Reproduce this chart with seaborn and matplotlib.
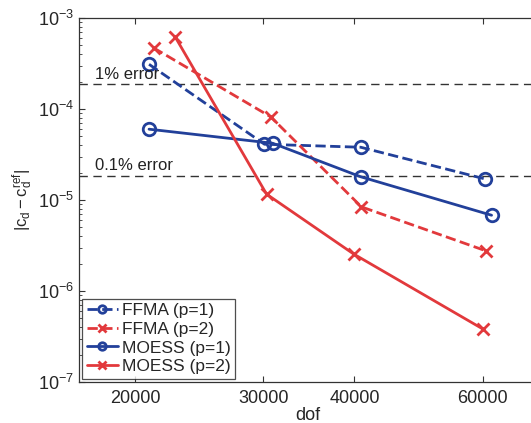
import numpy as np
import pandas as pd
import seaborn as sns
import matplotlib
matplotlib.use("Agg")
import matplotlib.pyplot as plt
from matplotlib.ticker import FixedLocator, NullLocator, LogLocator

# values
ffma_p1_dof = [20900, 30100, 40800, 60500]
ffma_p1_err = [3.1e-4, 4.1e-5, 3.8e-5, 1.7e-5]
ffma_p2_dof = [21200, 30700, 40900, 60700]
ffma_p2_err = [4.7e-4, 8.2e-5, 8.4e-6, 2.75e-6]
moess_p1_dof = [20900, 30900, 40800, 61700]
moess_p1_err = [6.0e-5, 4.2e-5, 1.8e-5, 6.8e-6]
moess_p2_dof = [22700, 30300, 39900, 60100]
moess_p2_err = [6.2e-4, 1.16e-5, 2.55e-6, 3.8e-7]
err_levels = [1.87e-4, 1.85e-5]
err_labels = ["1% error", "0.1% error"]
x_ticks = [20000, 30000, 40000, 60000]

BLUE = "#22409a"
RED = "#e2393c"

sns.set_theme(style="ticks")
plt.rcParams["font.family"] = ["Liberation Sans", "DejaVu Sans"]
plt.rcParams["mathtext.fontset"] = "custom"
plt.rcParams["mathtext.rm"] = "Liberation Sans"
plt.rcParams["mathtext.it"] = "Liberation Sans"
plt.rcParams["xtick.direction"] = "in"
plt.rcParams["ytick.direction"] = "in"

fig = plt.figure(figsize=(5.31, 4.23), dpi=100)
ax = fig.add_axes([79 / 531, 1 - 382 / 423, 457 / 531, 364 / 423])

series = [
    ("FFMA (p=1)", ffma_p1_dof, ffma_p1_err, BLUE, "--", "o"),
    ("FFMA (p=2)", ffma_p2_dof, ffma_p2_err, RED, "--", "x"),
    ("MOESS (p=1)", moess_p1_dof, moess_p1_err, BLUE, "-", "o"),
    ("MOESS (p=2)", moess_p2_dof, moess_p2_err, RED, "-", "x"),
]
for name, dof, err, col, ls, mk in series:
    df = pd.DataFrame({"dof": dof, "err": err})
    sns.lineplot(data=df, x="dof", y="err", ax=ax, color=col, linestyle=ls,
                 linewidth=2.0, marker=mk, markersize=9, markerfacecolor="none",
                 markeredgecolor=col, markeredgewidth=2.0, label=name)

for lvl, txt in zip(err_levels, err_labels):
    ax.axhline(lvl, color="#333333", linewidth=1.0, linestyle=(0, (6, 4)), zorder=1)
    ax.text(0.034, lvl * 1.06, txt, transform=ax.get_yaxis_transform(),
            fontsize=12, va="bottom", ha="left", color="#222222")

ax.set_xscale("log")
ax.set_yscale("log")
ax.set_xlim(16750, 71000)
ax.set_ylim(1e-7, 1e-3)
ax.xaxis.set_major_locator(FixedLocator(x_ticks))
ax.xaxis.set_minor_locator(NullLocator())
ax.set_xticklabels([str(t) for t in x_ticks])
ax.yaxis.set_major_locator(LogLocator(base=10, numticks=10))
ax.yaxis.set_minor_locator(LogLocator(base=10, subs=np.arange(2, 10), numticks=10))
ax.tick_params(axis="both", which="both", top=True, labelsize=13, color="#333333")
ax.tick_params(axis="x", which="major", pad=6)
ax.tick_params(which="major", length=4, width=0.8)
ax.tick_params(which="minor", length=2, width=0.6)
for sp in ax.spines.values():
    sp.set_linewidth(0.9)
    sp.set_color("#333333")

ax.set_xlabel("dof", fontsize=13, labelpad=0)
ax.set_ylabel(r"$\mathregular{|c_d - c_d^{ref}|}$", fontsize=12, labelpad=2)

leg = ax.legend(loc="lower left", fontsize=12.5, frameon=True, fancybox=False,
                edgecolor="#222222", borderaxespad=0.2, handlelength=1.8,
                handletextpad=0.2, labelspacing=0.2, borderpad=0.25, markerscale=0.6)
leg.get_frame().set_linewidth(0.9)

fig.savefig("out.png", dpi=100)
